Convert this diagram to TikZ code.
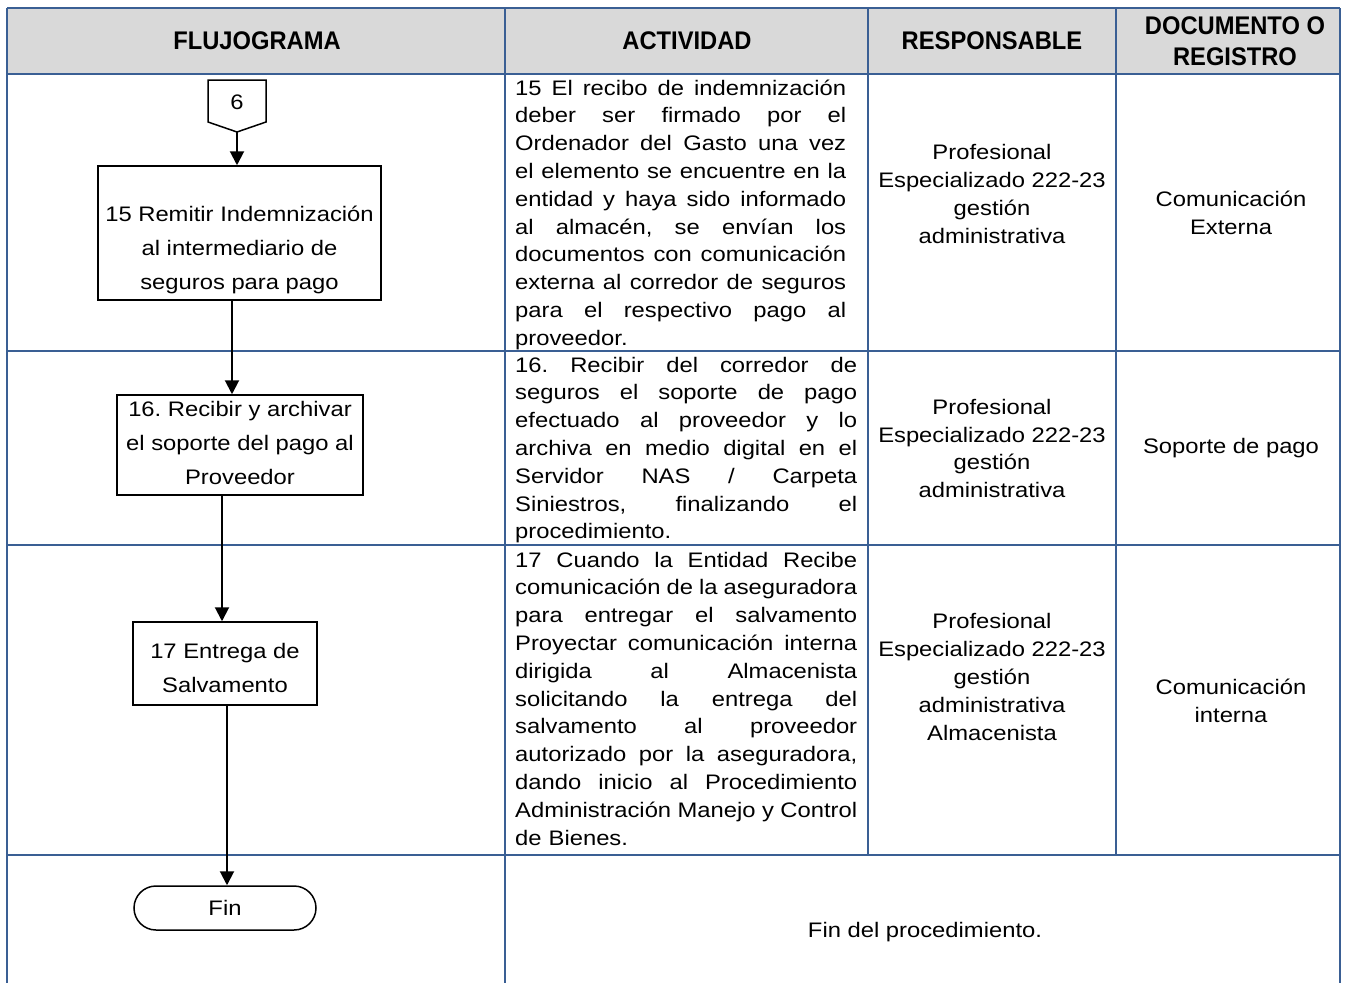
\documentclass[tikz,border=0pt]{standalone}
\usepackage{fontspec}
\setmainfont{Liberation Sans}[FakeStretch=1.133]
\newfontfamily\hdfont{Liberation Sans}[FakeStretch=0.93]
\usetikzlibrary{arrows.meta}
\definecolor{tblue}{HTML}{3A5F94}
\definecolor{hgray}{HTML}{D9D9D9}
\newcommand\jline[2]{\makebox[#1][s]{\spaceskip=0.28em plus 1fil\xspaceskip=0.28em plus 1fil\relax #2}}
\tikzset{
  tline/.style={draw=tblue, line width=2pt},
  hdr/.style={font=\hdfont\bfseries\fontsize{25.5}{31}\selectfont, align=center, inner sep=0pt},
  body/.style={font=\fontsize{21}{27.8}\selectfont, align=center, inner sep=0pt},
  actpar/.style={font=\fontsize{21}{27.8}\selectfont, text width=#1, align=left, inner sep=0pt, anchor=base west},
  procbox/.style={draw, line width=1.5pt, inner sep=0pt},
  boxtext/.style={font=\fontsize{21}{34}\selectfont, align=center, inner sep=0pt},
  arr/.style={line width=2pt, -{Triangle[length=14pt,width=14pt]}},
}
\begin{document}
\frenchspacing
\begin{tikzpicture}[x=1pt,y=-1pt]
\useasboundingbox (0,0) rectangle (1347,983);
% header background
\fill[hgray] (7,8) rectangle (1340,74);
% table lines
\draw[tline] (7,8) -- (1340,8);
\draw[tline] (7,74) -- (1340,74);
\draw[tline] (7,351) -- (1340,351);
\draw[tline] (7,545) -- (1340,545);
\draw[tline] (7,855) -- (1340,855);
\draw[tline] (7,8) -- (7,983);
\draw[tline] (505,8) -- (505,983);
\draw[tline] (1340,8) -- (1340,983);
\draw[tline] (868,8) -- (868,855);
\draw[tline] (1116,8) -- (1116,855);
% headers
\node[hdr] (h1) at (257,41) {FLUJOGRAMA};
\node[hdr] (h2) at (687,41) {ACTIVIDAD};
\node[hdr] (h3) at (992,41) {RESPONSABLE};
\node[hdr] (h4) at (1235,41) {DOCUMENTO O\\REGISTRO};
% flowchart
\draw[line width=1.5pt] (208,80) -- (266,80) -- (266,122) -- (237,132) -- (208,122) -- cycle;
\node[font=\fontsize{21}{25}\selectfont, inner sep=0pt] (c6) at (237,102) {6};
\coordinate (c6tip) at (237,132);
\node[procbox, minimum width=283pt, minimum height=134pt] (b1) at (239.5,233) {};
\node[boxtext] (b1t) at (239.5,250) {15 Remitir Indemnización\\al intermediario de\\seguros para pago};
\node[procbox, minimum width=246pt, minimum height=100pt] (b2) at (240,445) {};
\node[boxtext] (b2t) at (240,443) {16. Recibir y archivar\\el soporte del pago al\\Proveedor};
\node[procbox, minimum width=184pt, minimum height=83pt] (b3) at (225,663.5) {};
\node[boxtext] (b3t) at (225,668) {17 Entrega de\\Salvamento};
\node[draw, line width=1.5pt, rounded corners=22pt, minimum width=182pt, minimum height=44pt, inner sep=0pt, font=\fontsize{21}{25}\selectfont] (fin) at (225,908) {Fin};
\coordinate (x2) at (232,0);
\coordinate (x3) at (222,0);
\coordinate (x4) at (227,0);
\draw[arr] (c6tip) -- (c6tip |- b1.north);
\draw[arr] (b1.south -| x2) -- (b2.north -| x2);
\draw[arr] (b2.south -| x3) -- (b3.north -| x3);
\draw[arr] (b3.south -| x4) -- (fin.north -| x4);
% actividad
\node[actpar=331pt] (a1) at (515,95) {%
\jline{331pt}{15 El recibo de indemnización}\\
\jline{331pt}{deber ser firmado por el}\\
\jline{331pt}{Ordenador del Gasto una vez}\\
\jline{331pt}{el elemento se encuentre en la}\\
\jline{331pt}{entidad y haya sido informado}\\
\jline{331pt}{al almacén, se envían los}\\
\jline{331pt}{documentos con comunicación}\\
\jline{331pt}{externa al corredor de seguros}\\
\jline{331pt}{para el respectivo pago al}\\
proveedor.};
\node[actpar=342pt] (a2) at (515,372) {%
\jline{342pt}{16. Recibir del corredor de}\\
\jline{342pt}{seguros el soporte de pago}\\
\jline{342pt}{efectuado al proveedor y lo}\\
\jline{342pt}{archiva en medio digital en el}\\
\jline{342pt}{Servidor NAS / Carpeta}\\
\jline{342pt}{Siniestros, finalizando el}\\
procedimiento.};
\node[actpar=342pt] (a3) at (515,567) {%
\jline{342pt}{17 Cuando la Entidad Recibe}\\
\jline{342pt}{comunicación de la aseguradora}\\
\jline{342pt}{para entregar el salvamento}\\
\jline{342pt}{Proyectar comunicación interna}\\
\jline{342pt}{dirigida al Almacenista}\\
\jline{342pt}{solicitando la entrega del}\\
\jline{342pt}{salvamento al proveedor}\\
\jline{342pt}{autorizado por la aseguradora,}\\
\jline{342pt}{dando inicio al Procedimiento}\\
\jline{342pt}{Administración Manejo y Control}\\
de Bienes.};
% responsable
\node[body] (r1) at (992,194) {Profesional\\Especializado 222-23\\gestión\\administrativa};
\node[body] (r2) at (992,448.5) {Profesional\\Especializado 222-23\\gestión\\administrativa};
\node[body] (r3) at (992,677) {Profesional\\Especializado 222-23\\gestión\\administrativa\\Almacenista};
% documento
\node[body] (d1) at (1231,213) {Comunicación\\Externa};
\node[body] (d2) at (1231,448) {Soporte de pago};
\node[body] (d3) at (1231,700.5) {Comunicación\\interna};
% fin row
\node[body] (f1) at (925,932) {Fin del procedimiento.};
\end{tikzpicture}
\end{document}
